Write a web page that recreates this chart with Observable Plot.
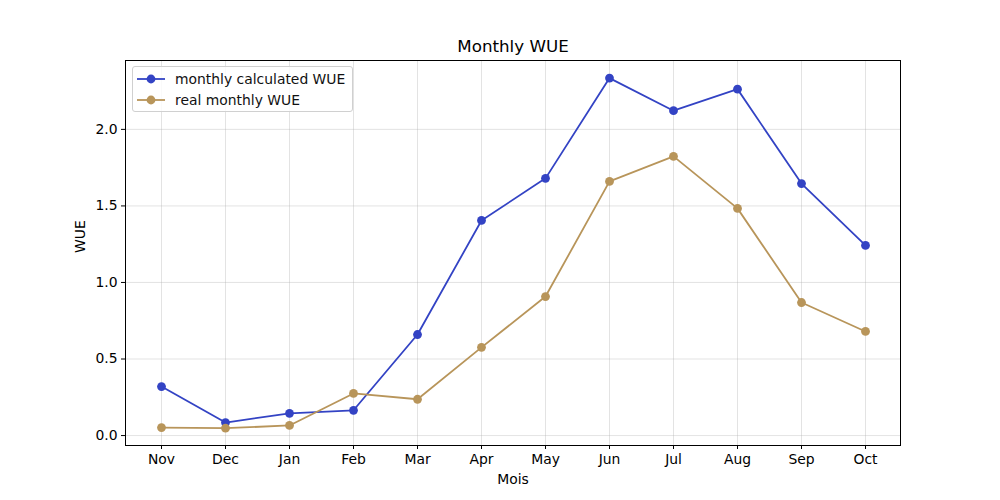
<!DOCTYPE html>
<html>
<head>
<meta charset="utf-8">
<script src="https://cdn.jsdelivr.net/npm/d3@7"></script>
<script src="https://cdn.jsdelivr.net/npm/@observablehq/plot@0.6"></script>
<style>
  html, body { margin: 0; padding: 0; background: #fff; }
  #wrap { position: relative; width: 1000px; height: 500px; font-family: "DejaVu Sans", sans-serif; }
  #legend { position: absolute; left: 132px; top: 66px; width: 221px; height: 46px;
    border: 1px solid #d0d0d0; border-radius: 3px; background: rgba(255,255,255,0.8);
    font-size: 13.9px; color: #111; box-sizing: border-box; }
  .item { position: absolute; left: 4px; height: 20px; display: flex; align-items: center; }
  .item svg { margin-right: 10px; }
</style>
</head>
<body>
<div id="wrap">
  <div id="chart"></div>
  <div id="legend"></div>
</div>
<script>
const months = ["Nov","Dec","Jan","Feb","Mar","Apr","May","Jun","Jul","Aug","Sep","Oct"];
const calculatedWUE = [0.32, 0.085, 0.145, 0.165, 0.66, 1.405, 1.68, 2.335, 2.122, 2.263, 1.646, 1.242];
const realWUE = [0.052, 0.048, 0.066, 0.275, 0.237, 0.576, 0.908, 1.66, 1.824, 1.484, 0.869, 0.68];
const yTicks = [0, 0.5, 1.0, 1.5, 2.0];
const seriesNames = ["monthly calculated WUE", "real monthly WUE"];
const colors = ["#3343c4", "#b8955a"];

const calc = months.map((m, i) => ({month: m, value: calculatedWUE[i]}));
const real = months.map((m, i) => ({month: m, value: realWUE[i]}));

const chart = Plot.plot({
  width: 1000,
  height: 500,
  marginTop: 60,
  marginBottom: 55,
  marginLeft: 125,
  marginRight: 100,
  style: {fontFamily: "DejaVu Sans, sans-serif", fontSize: "13.9px", color: "#000", background: "#fff"},
  x: {type: "point", domain: months, padding: 0.55, label: null},
  y: {domain: [-0.065, 2.45], label: null},
  marks: [
    Plot.gridX(months, {stroke: "#b0b0b0", strokeOpacity: 0.35}),
    Plot.gridY(yTicks, {stroke: "#b0b0b0", strokeOpacity: 0.35}),
    Plot.axisX({ticks: months, tickSize: 4, tickPadding: 5, fontSize: 13.9, label: null}),
    Plot.axisY({ticks: yTicks, tickSize: 4, tickPadding: 4, tickFormat: d3.format(".1f"), fontSize: 13.9, label: null}),
    Plot.lineY(calc, {x: "month", y: "value", stroke: colors[0], strokeWidth: 1.8}),
    Plot.dot(calc, {x: "month", y: "value", fill: colors[0], r: 4.4}),
    Plot.lineY(real, {x: "month", y: "value", stroke: colors[1], strokeWidth: 1.8}),
    Plot.dot(real, {x: "month", y: "value", fill: colors[1], r: 4.4}),
    Plot.frame({stroke: "#000", strokeWidth: 1}),
    Plot.text(["Monthly WUE"], {frameAnchor: "top", dy: -20, fontSize: 16.7, fill: "#000"}),
    Plot.text(["Mois"], {frameAnchor: "bottom", dy: 38, fontSize: 13.9, fill: "#000"}),
    Plot.text(["WUE"], {frameAnchor: "left", dx: -45, rotate: -90, fontSize: 13.9, fill: "#000"})
  ]
});
document.getElementById("chart").appendChild(chart);

const legend = document.getElementById("legend");
seriesNames.forEach((name, i) => {
  const div = document.createElement("div");
  div.className = "item";
  div.style.top = (2 + i * 21) + "px";
  div.innerHTML = `<svg width="28" height="12"><line x1="0" x2="28" y1="6" y2="6" stroke="${colors[i]}" stroke-width="1.8"/><circle cx="14" cy="6" r="4.4" fill="${colors[i]}"/></svg><span>${name}</span>`;
  legend.appendChild(div);
});
</script>
</body>
</html>
